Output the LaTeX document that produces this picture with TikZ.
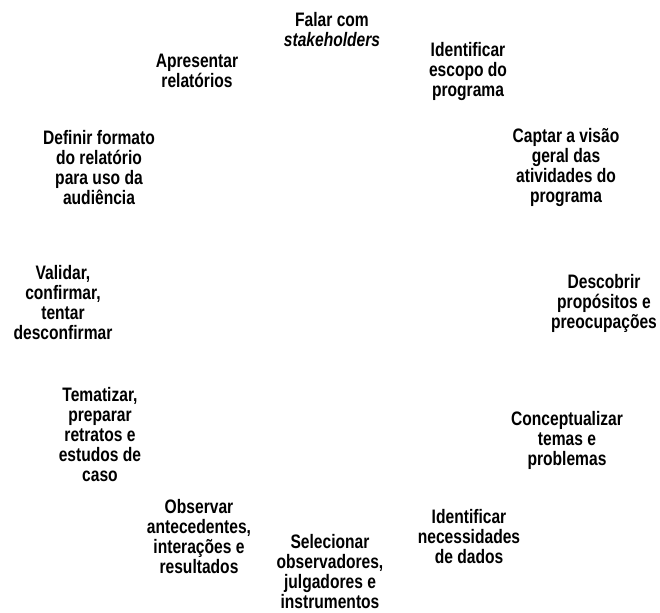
\documentclass[tikz,border=0pt]{standalone}
\usepackage{fontspec}
\setmainfont{Liberation Sans}[FakeStretch=0.8]
\begin{document}
\begin{tikzpicture}[x=1pt,y=-1pt,
  steplabel/.style={align=center, inner sep=0pt,
    font=\fontsize{19.5}{20}\selectfont\bfseries}]
\useasboundingbox (0,0) rectangle (660,612);
% the twelve activities, arranged clockwise around a ring
\node[steplabel] (falar)     at (332,30)    {Falar com\\\textit{stakeholders}};
\node[steplabel] (escopo)    at (468,71.5)  {Identificar\\escopo do\\programa};
\node[steplabel] (visao)     at (566,168)   {Captar a visão\\geral das\\atividades do\\programa};
\node[steplabel] (propositos) at (604,303)   {Descobrir\\propósitos e\\preocupações};
\node[steplabel] (temas)     at (567,440)   {Conceptualizar\\temas e\\problemas};
\node[steplabel] (dados)     at (469,536.5) {Identificar\\necessidades\\de dados};
\node[steplabel] (selecionar) at (330,572)  {Selecionar\\observadores,\\julgadores e\\instrumentos};
\node[steplabel] (observar)  at (199,536.5) {Observar\\antecedentes,\\interações e\\resultados};
\node[steplabel] (tematizar) at (100,435)   {Tematizar,\\preparar\\retratos e\\estudos de\\caso};
\node[steplabel] (validar)   at (63,303)    {Validar,\\confirmar,\\tentar\\desconfirmar};
\node[steplabel] (formato)   at (99,167.5)  {Definir formato\\do relatório\\para uso da\\audiência};
\node[steplabel] (relatorios) at (197,70.5) {Apresentar\\relatórios};
\end{tikzpicture}
\end{document}
